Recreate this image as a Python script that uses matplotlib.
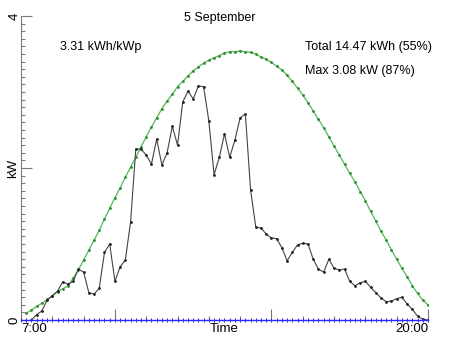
import numpy as np
import matplotlib
matplotlib.use("Agg")
import matplotlib.pyplot as plt
from matplotlib.ticker import MultipleLocator, FixedLocator

plt.rcParams["font.family"] = ["Liberation Sans", "DejaVu Sans"]

# =============================================================================
# DATA  (10 minute samples, kW)
# =============================================================================

day_title = "5 September"
yield_text = "3.31 kWh/kWp"
total_text = "Total 14.47 kWh (55%)"
max_text = "Max 3.08 kW (87%)"

sample_min = 10

# measured output, first sample 07:20
power_start = 7 + 20 / 60
power_kw = [
    0.00, 0.07, 0.12, 0.26, 0.32, 0.38, 0.50, 0.47, 0.51, 0.67,
    0.63, 0.36, 0.34, 0.42, 0.89, 1.00, 0.51, 0.70, 0.79, 1.29,
    2.25, 2.25, 2.17, 2.05, 2.38, 2.04, 2.20, 2.55, 2.30, 2.87,
    3.01, 2.91, 3.08, 3.07, 2.62, 1.91, 2.14, 2.45, 2.14, 2.37,
    2.66, 2.71, 1.71, 1.22, 1.21, 1.13, 1.08, 1.07, 0.95, 0.78,
    0.89, 0.99, 1.01, 1.00, 0.80, 0.67, 0.63, 0.80, 0.68, 0.66,
    0.67, 0.51, 0.45, 0.49, 0.51, 0.43, 0.36, 0.29, 0.24, 0.25,
    0.28, 0.30, 0.21, 0.14, 0.05, 0.01, 0.00,
]

# clear sky reference, first sample 07:10
clear_start = 7 + 10 / 60
clear_kw = [
    0.09, 0.13, 0.18, 0.22, 0.27, 0.32, 0.37, 0.41, 0.45, 0.55,
    0.66, 0.79, 0.92, 1.05, 1.18, 1.33, 1.47, 1.61, 1.74, 1.88,
    2.01, 2.14, 2.28, 2.41, 2.54, 2.66, 2.78, 2.88, 2.97, 3.07,
    3.14, 3.21, 3.28, 3.33, 3.38, 3.42, 3.45, 3.48, 3.51, 3.53,
    3.53, 3.54, 3.53, 3.52, 3.50, 3.46, 3.43, 3.39, 3.34, 3.29,
    3.22, 3.14, 3.05, 2.96, 2.86, 2.75, 2.64, 2.53, 2.41, 2.29,
    2.17, 2.05, 1.93, 1.82, 1.69, 1.57, 1.43, 1.30, 1.17, 1.05,
    0.92, 0.80, 0.68, 0.57, 0.45, 0.35, 0.26, 0.20,
]

# grid feed-in / export, zero all day, first sample 07:00
export_start = 7.0
export_kw = [0.0] * 79

t_power = power_start + np.arange(len(power_kw)) * sample_min / 60
t_clear = clear_start + np.arange(len(clear_kw)) * sample_min / 60
t_export = export_start + np.arange(len(export_kw)) * sample_min / 60

# =============================================================================
# PLOT
# =============================================================================

W, H = 452, 339
FS = 9.5
fig = plt.figure(figsize=(W / 100, H / 100), dpi=100)
ax = fig.add_axes([21 / W, 1 - 320 / H, 407 / W, 304 / H])

ax.plot(t_clear, clear_kw, color="#55b855", lw=0.9, marker="o", ms=1.0,
        mec="#2e8a2e", mfc="#2e8a2e", zorder=3)
ax.plot(t_power, power_kw, color="#444444", lw=0.8, marker="o", ms=1.0,
        mec="#222222", mfc="#222222", zorder=4)
ax.plot(t_export, export_kw, color="#2828ff", lw=1.0, marker="|", ms=2.5,
        mew=0.7, zorder=5, clip_on=False)

ax.set_xlim(7, 20)
ax.set_ylim(0, 4)

for s in ("top", "right", "bottom"):
    ax.spines[s].set_visible(False)
ax.spines["left"].set_color("#7a7a7a")
ax.spines["left"].set_linewidth(0.8)

ax.xaxis.set_major_locator(FixedLocator([10, 15, 20]))
ax.xaxis.set_minor_locator(MultipleLocator(1))
ax.yaxis.set_major_locator(FixedLocator([0, 2, 4]))
ax.yaxis.set_minor_locator(MultipleLocator(0.1))
ax.tick_params(which="both", direction="in", color="#7a7a7a", width=0.8)
ax.tick_params(which="major", length=8)
ax.tick_params(which="minor", length=3)
ax.tick_params(axis="x", which="both", labelbottom=False)

ax.set_yticklabels(["0", "", "4"], rotation=90, va="center", fontsize=FS)
ax.tick_params(axis="y", pad=0.5)
ax.set_ylabel("kW", fontsize=FS, labelpad=0)
ax.yaxis.set_label_coords(-0.004, 0.5)

# time axis labels sit at the two ends, axis title in the middle
lab_y = -9 / 304
ax.set_xlabel("Time", fontsize=FS, va="center")
ax.xaxis.set_label_coords(0.5, lab_y)
ax.text(7, lab_y, "7:00", transform=ax.get_xaxis_transform(),
        ha="left", va="center", fontsize=FS)
ax.text(20, lab_y, "20:00", transform=ax.get_xaxis_transform(),
        ha="right", va="center", fontsize=FS)

fig.text(220 / W, 1 - 18 / H, day_title, ha="center", va="center", fontsize=9)
fig.text(60 / W, 1 - 47 / H, yield_text, ha="left", va="center", fontsize=9)
fig.text(305 / W, 1 - 47 / H, total_text, ha="left", va="center", fontsize=9)
fig.text(305 / W, 1 - 71 / H, max_text, ha="left", va="center", fontsize=9)

fig.savefig("out.png", dpi=100)
